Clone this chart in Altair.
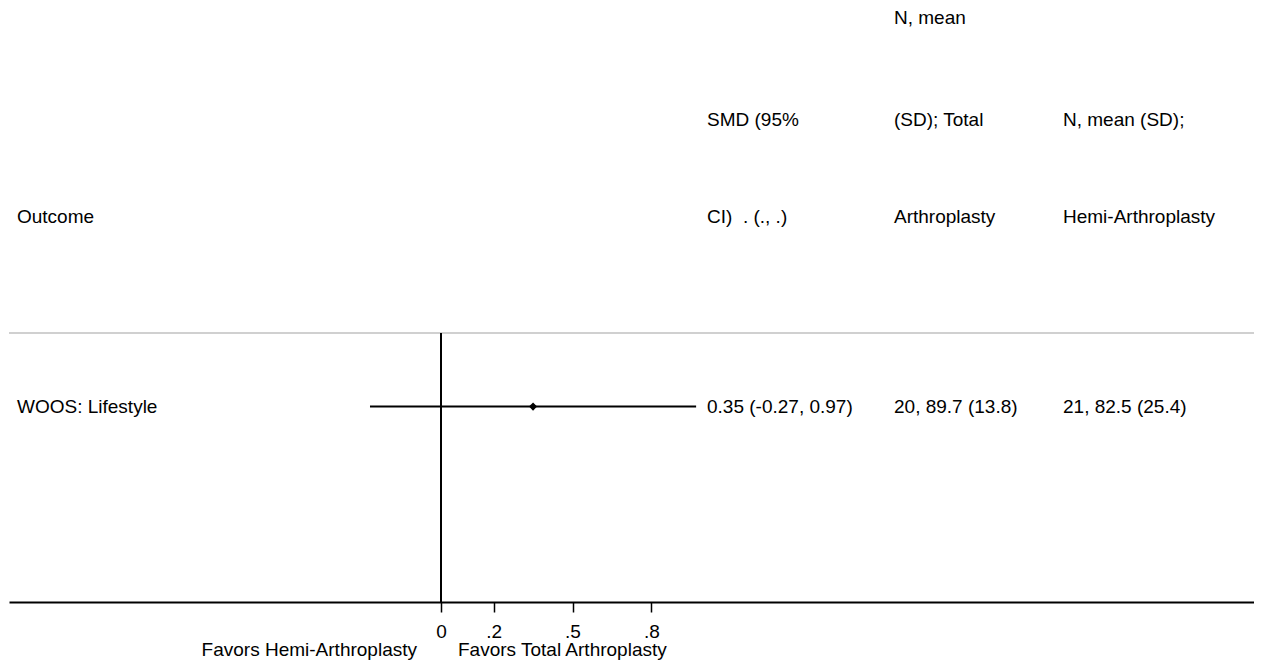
import altair as alt
import pandas as pd

# ---- data ----
outcomes = ["WOOS: Lifestyle"]
row_pos = [1]
smd = [0.35]
ci_low = [-0.27]
ci_high = [0.97]
total_stats = ["20, 89.7 (13.8)"]
hemi_stats = ["21, 82.5 (25.4)"]

tick_values = [0, 0.2, 0.5, 0.8]

header_outcome = ["Outcome"]
header_smd = ["SMD (95%", "CI)\u00a0\u00a0. (., .)"]
header_total = ["N, mean", "(SD); Total", "Arthroplasty"]
header_hemi = ["N, mean (SD);", "Hemi-Arthroplasty"]
favors_left = ["Favors Hemi-Arthroplasty"]
favors_right = ["Favors Total Arthroplasty"]

# ---- layout ----
FONT = "Liberation Sans"
FS = 19
W, H = 1245, 594
ZERO_PX, UNIT_PX = 432, 263
col_x = {"outcome": 8, "smd": 698, "total": 885, "hemi": 1054}
line_y = [10, 112, 209]  # header line centres (top, middle, bottom)
SEP_Y = 325
FAV_Y = 642

rows = pd.DataFrame({
    "outcome": outcomes,
    "pos": row_pos,
    "smd": smd,
    "lo": ci_low,
    "hi": ci_high,
    "smd_txt": [f"{s:.2f} ({l:.2f}, {h:.2f})" for s, l, h in zip(smd, ci_low, ci_high)],
    "total": total_stats,
    "hemi": hemi_stats,
})

x_scale = alt.Scale(domain=[-ZERO_PX / UNIT_PX, (W - ZERO_PX) / UNIT_PX], nice=False, zero=False)
y_scale = alt.Scale(domain=[0, 3.04], nice=False, zero=False)

x_axis = alt.Axis(
    values=tick_values,
    labelExpr="datum.value == 0 ? '0' : replace(format(datum.value, '.1f'), '0.', '.')",
    title=None, grid=False,
    domainColor="black", domainWidth=2,
    tickColor="black", tickWidth=1.5, tickSize=10,
    labelFont=FONT, labelFontSize=FS, labelColor="black", labelPadding=10,
    labelFlush=False, labelOverlap=False,
)

base = alt.Chart(rows)

ci = base.mark_rule(color="black", strokeWidth=2).encode(
    x=alt.X("lo:Q", scale=x_scale, axis=x_axis),
    x2="hi:Q",
    y=alt.Y("pos:Q", scale=y_scale, axis=None),
)

pt = base.mark_point(shape="diamond", filled=True, size=65, color="black", opacity=1).encode(
    x=alt.X("smd:Q", scale=x_scale),
    y=alt.Y("pos:Q", scale=y_scale),
)

zero_line = base.mark_rule(color="black", strokeWidth=2).encode(
    x=alt.datum(0), y=alt.value(SEP_Y), y2=alt.value(H)
)

sep = base.mark_rule(color="#c0c0c0", strokeWidth=1.5).encode(
    x=alt.value(0), x2=alt.value(W), y=alt.value(SEP_Y)
)

txt_kw = dict(align="left", baseline="middle", font=FONT, fontSize=FS, color="black")

body = []
for field, key in [("outcome", "outcome"), ("smd_txt", "smd"), ("total", "total"), ("hemi", "hemi")]:
    body.append(
        base.mark_text(**txt_kw).encode(
            x=alt.value(col_x[key]),
            y=alt.Y("pos:Q", scale=y_scale),
            text=f"{field}:N",
        )
    )

headers = []
for key, lines in [("outcome", header_outcome), ("smd", header_smd),
                   ("total", header_total), ("hemi", header_hemi)]:
    start = len(line_y) - len(lines)
    for i, t in enumerate(lines):
        headers.append(
            alt.Chart(pd.DataFrame({"t": [t]})).mark_text(**txt_kw).encode(
                x=alt.value(col_x[key]), y=alt.value(line_y[start + i]), text="t:N"
            )
        )

fav_l = alt.Chart(pd.DataFrame({"t": favors_left})).mark_text(
    align="right", baseline="middle", font=FONT, fontSize=FS, color="black", dx=-24
).encode(x=alt.datum(0), y=alt.value(FAV_Y), text="t:N")

fav_r = alt.Chart(pd.DataFrame({"t": favors_right})).mark_text(
    align="left", baseline="middle", font=FONT, fontSize=FS, color="black", dx=17
).encode(x=alt.datum(0), y=alt.value(FAV_Y), text="t:N")

chart = alt.layer(sep, zero_line, ci, pt, *body, *headers, fav_l, fav_r).properties(
    width=W, height=H,
    autosize=alt.AutoSizeParams(type="none"),
    padding={"left": 1, "top": 0, "right": 0, "bottom": 60},
    background="white",
).configure_view(stroke=None)

chart.save("out.html", embed_options={"renderer": "svg", "actions": False})
